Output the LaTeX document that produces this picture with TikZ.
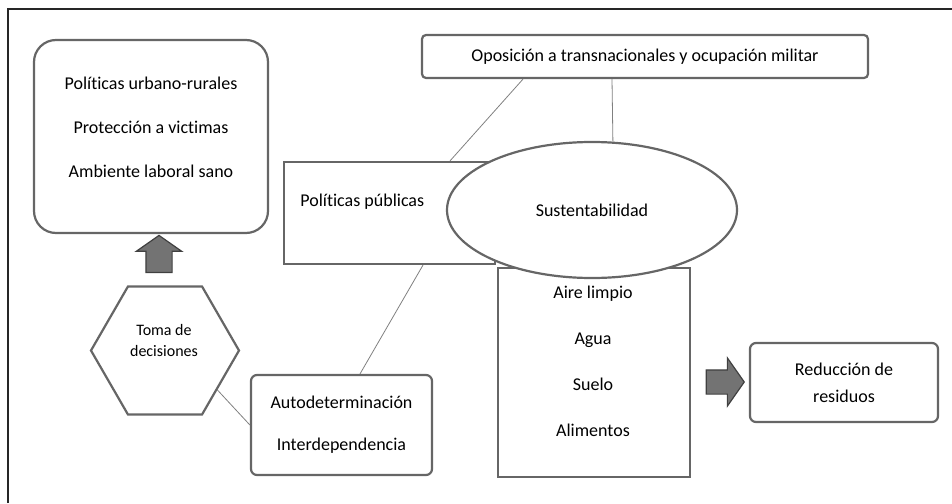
\documentclass[tikz,border=0pt]{standalone}
\usepackage{fontspec}
\setmainfont{Carlito}[Ligatures=NoCommon]
\usepackage{tikz}
\usetikzlibrary{arrows,shapes.geometric,shapes.arrows}

\begin{document}
\begin{tikzpicture}[x=1pt,y=-1pt,thick,
		every node/.style={font=\fontsize{18}{21}\selectfont},
		plain box/.style={draw=black!60,line width=2.2pt,fill=white,inner sep=0pt},
		round box/.style={plain box,rounded corners=6pt,align=center},
		txt/.style={align=center,inner sep=0pt},
		link/.style={draw=black!50,line width=0.8pt},
		block arrow/.style={single arrow,draw=black!75,fill=black!55,line width=1.2pt,
			inner sep=0pt,single arrow tip angle=110}]
		
		\useasboundingbox (0,0) rectangle (952,503);
		\draw[black!85,line width=1.5pt] (8,503) -- (8,9) -- (952,9);
		
		\node[round box,rounded corners=22pt,minimum width=234pt,minimum height=193pt] (pol) at (151,136.5) {};
		\node[txt] (polt) at (151,127) {Políticas urbano-rurales\\[23pt]Protección a victimas\\[23pt]Ambiente laboral sano};
		\node[round box,rounded corners=4pt,minimum width=446pt,minimum height=43pt] (opo) at (645,56.5) {Oposición a transnacionales y ocupación militar};
		
		\node[plain box,minimum width=211pt,minimum height=102pt] (pp) at (389.5,213) {};
		\node[txt,anchor=west] (ppt) at (300,202) {Políticas públicas};
		\node[plain box,minimum width=192pt,minimum height=209pt] (amb) at (594,372.5) {};
		\node[txt] (ambt) at (593,361) {Aire limpio\\[25pt]Agua\\[25pt]Suelo\\[25pt]Alimentos};
		\node[plain box,ellipse,minimum width=290pt,minimum height=136pt] (sus) at (592,210) {Sustentabilidad};
		
		\node[block arrow,minimum height=38pt,inner sep=11.5pt,single arrow head extend=12pt] (der) at (721,382) {};
		\node[round box,minimum width=188pt,minimum height=79pt] (red) at (844,382.5) {Reducción de\\[6pt]residuos};
		
		\node[block arrow,minimum height=37pt,inner sep=12.5pt,single arrow head extend=9.5pt,shape border rotate=90] (arr) at (159,258.5) {};
		\node[plain box,regular polygon,regular polygon sides=6,minimum size=148pt] (hex) at (165,350.5) {};
		\node[txt,font=\fontsize{16}{21}\selectfont] (hext) at (164,340) {Toma de\\decisiones};
		\node[round box,minimum width=181pt,minimum height=100pt] (aut) at (341.5,425) {Autodeterminación\\[21pt]Interdependencia};
		
		\path[link]
		(opo.south -| 523,0) edge (pp.north -| 450,0)
		(opo.south -| 612,0) edge (sus.73)
		(pp.south -| 423,0) edge (aut.north -| 360,0)
		(hex.-37) edge (aut.west);
		
		\end{tikzpicture}
\end{document}
